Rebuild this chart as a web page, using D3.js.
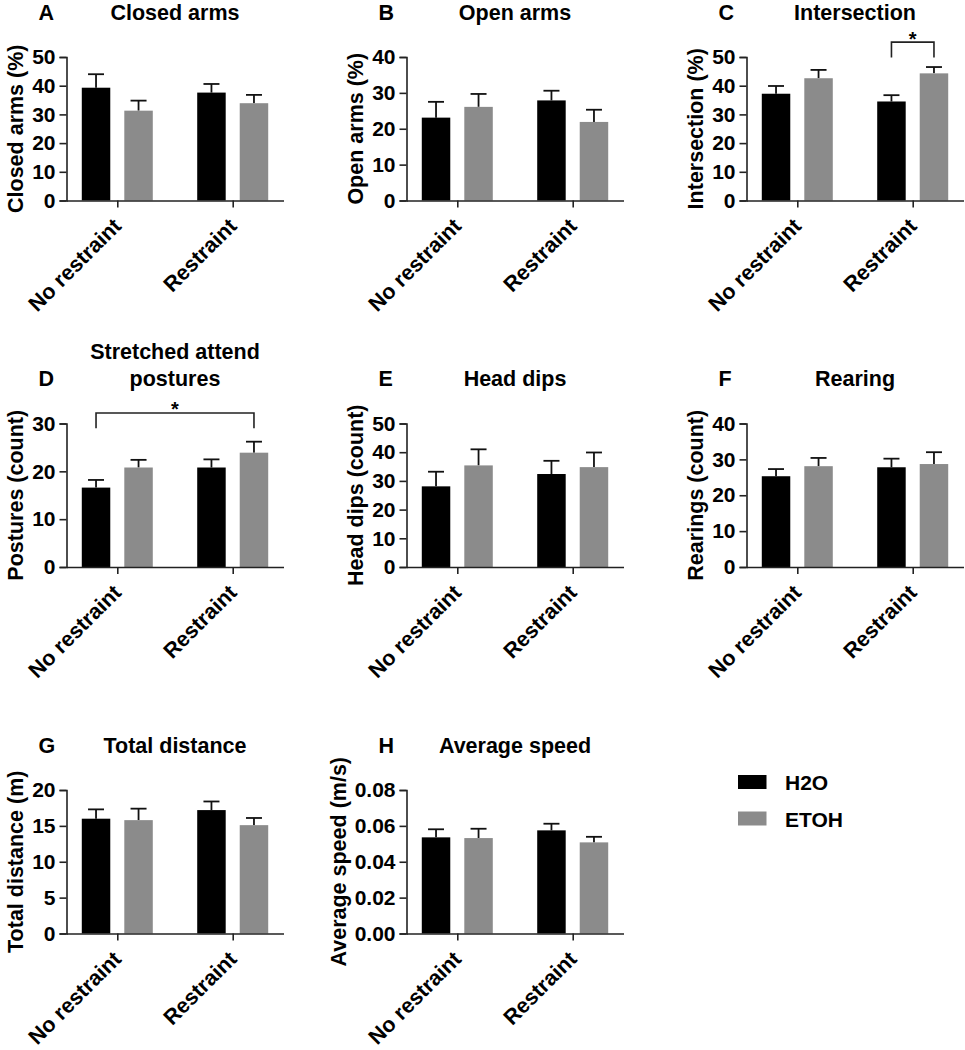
<!DOCTYPE html>
<html>
<head>
<meta charset="utf-8">
<script src="https://cdn.jsdelivr.net/npm/d3@7"></script>
<style>
  html, body { margin: 0; padding: 0; background: #fff; }
  svg text { font-family: "Liberation Sans", Arial, Helvetica, sans-serif; font-weight: bold; fill: #000; }
</style>
</head>
<body>
<svg id="chart" width="965" height="1050"></svg>
<script>
// ---- data ----
const categories = ["No restraint", "Restraint"];
const seriesNames = ["H2O", "ETOH"];
const seriesColors = ["#000000", "#8b8b8b"];

const panelLetters = ["A", "B", "C", "D", "E", "F", "G", "H"];
const panelTitles = [["Closed arms"], ["Open arms"], ["Intersection"], ["Stretched attend", "postures"],
                     ["Head dips"], ["Rearing"], ["Total distance"], ["Average speed"]];
const yAxisLabels = ["Closed arms (%)", "Open arms (%)", "Intersection (%)", "Postures (count)",
                     "Head dips (count)", "Rearings (count)", "Total distance (m)", "Average speed (m/s)"];
const yMaxima = [50, 40, 50, 30, 50, 40, 20, 0.08];
const yTickValues = [
  [0, 10, 20, 30, 40, 50],
  [0, 10, 20, 30, 40],
  [0, 10, 20, 30, 40, 50],
  [0, 10, 20, 30],
  [0, 10, 20, 30, 40, 50],
  [0, 10, 20, 30, 40],
  [0, 5, 10, 15, 20],
  [0, 0.02, 0.04, 0.06, 0.08]
];
const yTickFormats = ["d", "d", "d", "d", "d", "d", "d", ".2f"];

// means per panel: [No restraint, Restraint]
const h2oMeans = [
  [39.3, 37.6], [23.1, 27.9], [37.2, 34.5], [16.6, 20.8],
  [28.1, 32.4], [25.3, 27.8], [16.0, 17.2], [0.0536, 0.0575]
];
const etohMeans = [
  [31.3, 33.9], [26.1, 21.9], [42.6, 44.3], [20.8, 23.9],
  [35.4, 34.8], [28.1, 28.7], [15.8, 15.1], [0.0532, 0.0508]
];
// SEM per panel: [No restraint, Restraint]
const h2oSem = [
  [4.7, 3.0], [4.4, 2.7], [2.7, 2.2], [1.6, 1.7],
  [5.1, 4.6], [2.0, 2.4], [1.3, 1.2], [0.0045, 0.0037]
];
const etohSem = [
  [3.5, 2.9], [3.6, 3.4], [2.9, 2.2], [1.6, 2.3],
  [5.6, 5.1], [2.3, 3.3], [1.6, 1.0], [0.0052, 0.0031]
];

// significance brackets: panel index, [category, series] endpoints, bar level, leg bottom
const bracketPanels = [2, 3];
const bracketFrom = [["Restraint", "H2O"], ["No restraint", "H2O"]];
const bracketTo = [["Restraint", "ETOH"], ["Restraint", "ETOH"]];
const bracketLevel = [55.2, 32.2];
const bracketLegEnd = [49.8, 29.0];
const bracketLabel = ["*", "*"];

// ---- layout ----
const colAxisX = [66.5, 406.5, 746.5];
const rowZeroY = [200.5, 567, 933.5];
const rowTitleY = [20, 386, 753];
const plotW = 217, plotH = 143.5;
const fontSize = 21.5;

const svg = d3.select("#chart");

panelLetters.forEach((letter, i) => {
  const col = i % 3, row = Math.floor(i / 3);
  const x0 = colAxisX[col], y0 = rowZeroY[row];
  const g = svg.append("g").attr("transform", `translate(${x0},${y0 - plotH})`);

  const x = d3.scalePoint().domain(categories).range([0, plotW]).padding(0.44);
  const xs = d3.scaleBand().domain(seriesNames).range([-35.5, 35.5]).paddingInner(0.33);
  const y = d3.scaleLinear().domain([0, yMaxima[i]]).range([plotH, 0]);

  // bars
  const rows = [];
  categories.forEach((c, ci) => {
    rows.push({cat: c, s: "H2O", m: h2oMeans[i][ci], e: h2oSem[i][ci], color: seriesColors[0]});
    rows.push({cat: c, s: "ETOH", m: etohMeans[i][ci], e: etohSem[i][ci], color: seriesColors[1]});
  });
  // error bars (upper only)
  rows.forEach(d => {
    const cx = x(d.cat) + xs(d.s) + xs.bandwidth() / 2;
    g.append("line").attr("x1", cx).attr("x2", cx).attr("y1", y(d.m)).attr("y2", y(d.m + d.e))
      .attr("stroke", "#111").attr("stroke-width", 1.8);
    g.append("line").attr("x1", cx - 8).attr("x2", cx + 8).attr("y1", y(d.m + d.e)).attr("y2", y(d.m + d.e))
      .attr("stroke", "#111").attr("stroke-width", 1.8);
  });
  g.selectAll("rect.bar").data(rows).enter().append("rect")
    .attr("class", "bar")
    .attr("x", d => x(d.cat) + xs(d.s))
    .attr("width", xs.bandwidth())
    .attr("y", d => y(d.m))
    .attr("height", d => plotH - y(d.m))
    .attr("fill", d => d.color);

  // y axis
  const yAxis = d3.axisLeft(y).tickValues(yTickValues[i]).tickFormat(d3.format(yTickFormats[i]))
    .tickSize(7).tickPadding(4);
  const ya = g.append("g").call(yAxis);
  ya.select(".domain").attr("stroke", "#222").attr("stroke-width", 1.6);
  ya.selectAll(".tick line").attr("stroke", "#222").attr("stroke-width", 1.6);
  ya.selectAll(".tick text").style("font-size", "21px").attr("fill", "#000");

  // x axis
  const xAxis = d3.axisBottom(x).tickSize(7).tickSizeOuter(0).tickFormat("");
  const xa = g.append("g").attr("transform", `translate(0,${plotH})`).call(xAxis);
  xa.select(".domain").attr("stroke", "#222").attr("stroke-width", 1.6);
  xa.selectAll(".tick line").attr("stroke", "#222").attr("stroke-width", 1.6);
  categories.forEach(c => {
    g.append("text")
      .attr("transform", `translate(${x(c)},${plotH + 21.5}) rotate(-45)`)
      .attr("text-anchor", "end").attr("dy", "0.35em")
      .style("font-size", fontSize + "px").text(c);
  });

  // y axis title
  let minLeft = 0;
  ya.selectAll(".tick text").each(function () {
    const b = this.getBBox();
    minLeft = Math.min(minLeft, b.x);
  });
  g.append("text")
    .attr("transform", `translate(${minLeft - 9},${plotH / 2}) rotate(-90)`)
    .attr("text-anchor", "middle")
    .style("font-size", fontSize + "px").text(yAxisLabels[i]);

  // panel letter and title
  const ty = rowTitleY[row] - (y0 - plotH);
  g.append("text").attr("x", -28).attr("y", ty).style("font-size", fontSize + "px").text(letter);
  const lines = panelTitles[i];
  lines.forEach((t, li) => {
    g.append("text").attr("x", plotW / 2).attr("y", ty - (lines.length - 1 - li) * 27)
      .attr("text-anchor", "middle").style("font-size", fontSize + "px").text(t);
  });

  // significance brackets
  bracketPanels.forEach((p, bi) => {
    if (p !== i) return;
    const xa1 = x(bracketFrom[bi][0]) + xs(bracketFrom[bi][1]) + xs.bandwidth() / 2;
    const xa2 = x(bracketTo[bi][0]) + xs(bracketTo[bi][1]) + xs.bandwidth() / 2;
    const yl = y(bracketLevel[bi]), ye = y(bracketLegEnd[bi]);
    g.append("path")
      .attr("d", `M${xa1},${ye}V${yl}H${xa2}V${ye}`)
      .attr("fill", "none").attr("stroke", "#222").attr("stroke-width", 1.6);
    g.append("text").attr("x", (xa1 + xa2) / 2).attr("y", yl + 3.5)
      .attr("text-anchor", "middle").style("font-size", "20px").text(bracketLabel[bi]);
  });
});

// legend
const legend = svg.append("g").attr("transform", "translate(738,775)");
seriesNames.forEach((s, i) => {
  legend.append("rect").attr("x", 0).attr("y", i * 36.5).attr("width", 28.5).attr("height", 14)
    .attr("fill", seriesColors[i]);
  legend.append("text").attr("x", 47).attr("y", i * 36.5 + 15).style("font-size", "21px").text(s);
});
</script>
</body>
</html>
